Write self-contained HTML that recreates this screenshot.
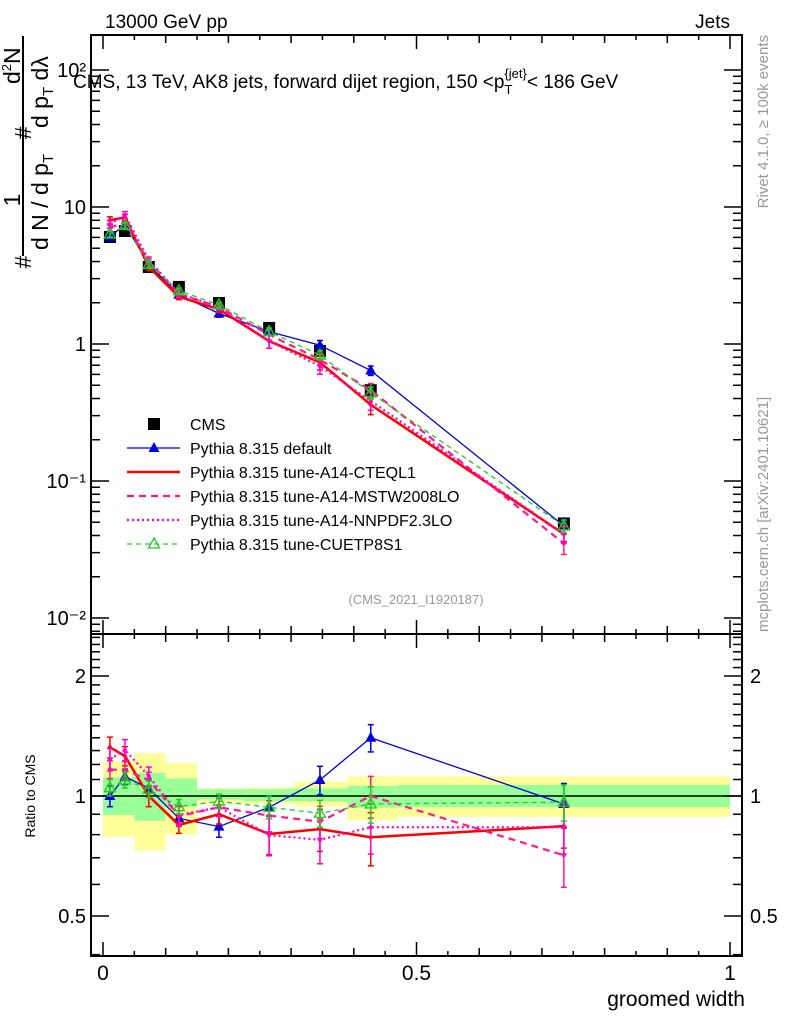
<!DOCTYPE html>
<html><head><meta charset="utf-8"><style>
html,body{margin:0;padding:0;background:#fff}
svg{display:block;font-family:"Liberation Sans",sans-serif}
</style></head><body>
<svg id="c" width="786" height="1024" viewBox="0 0 786 1024">
<g id="bands"></g>
<g id="axes"></g>
<g id="series"></g>
<text x="105" y="28" font-size="19">13000 GeV pp</text>
<text x="730" y="28" font-size="19" text-anchor="end">Jets</text>
<text x="73" y="88" font-size="19">CMS, 13 TeV, AK8 jets, forward dijet region, 150 &lt;p<tspan font-size="13" dy="6">T</tspan><tspan font-size="13" dy="-16" dx="-8">{jet}</tspan><tspan dy="10">&lt; 186 GeV</tspan></text>
<text x="416" y="604" font-size="13" fill="#999" text-anchor="middle">(CMS_2021_I1920187)</text>
<text transform="translate(768,35) rotate(-90)" font-size="15" fill="#999" text-anchor="end">Rivet 4.1.0, ≥ 100k events</text>
<text transform="translate(768,632) rotate(-90)" font-size="15" fill="#999">mcplots.cern.ch [arXiv:2401.10621]</text>
<g font-size="23">
<line x1="23" y1="36" x2="23" y2="256" stroke="#000" stroke-width="2"/>
<text transform="translate(31,262) rotate(-90)" text-anchor="middle">#</text>
<text transform="translate(20,200) rotate(-90)" text-anchor="middle">1</text>
<text transform="translate(48,250) rotate(-90)">d N / d p<tspan font-size="15" dy="5">T</tspan></text>
<text transform="translate(31,133) rotate(-90)" text-anchor="middle">#</text>
<text transform="translate(20,84) rotate(-90)">d<tspan font-size="13" dy="-9">2</tspan><tspan dy="9">N</tspan></text>
<text transform="translate(48,128) rotate(-90)">d p<tspan font-size="15" dy="5">T</tspan><tspan dy="-5"> dλ</tspan></text>
</g>
<text transform="translate(35,796) rotate(-90)" font-size="14" text-anchor="middle">Ratio to CMS</text>
<text x="745" y="1006" font-size="21" text-anchor="end">groomed width</text>
<g id="legend"></g>
</svg>
<script>
const xs = [0.011, 0.035, 0.073, 0.121, 0.185, 0.265, 0.346, 0.427, 0.735];
const binEdges = [0, 0.05, 0.1, 0.15, 0.225, 0.305, 0.39, 0.47, 1];
const cms = [6.04, 6.68, 3.65, 2.61, 1.99, 1.31, 0.89, 0.46, 0.049];
const yellowUp = [1.22, 1.28, 1.21, 1.045, 1.05, 1.086, 1.12, 1.12, 1.124];
const yellowDn = [0.79, 0.73, 0.80, 0.959, 0.955, 0.94, 0.87, 0.886, 0.886];
const greenUp = [1.114, 1.144, 1.107, 1.04, 1.04, 1.045, 1.06, 1.066, 1.066];
const greenDn = [0.896, 0.867, 0.94, 0.98, 0.97, 0.97, 0.935, 0.938, 0.938];
const defMain = [6.04, 7.47, 3.81, 2.29, 1.67, 1.23, 0.98, 0.64, 0.047];
const defRatio = [1.0, 1.118, 1.045, 0.879, 0.838, 0.937, 1.097, 1.40, 0.955];
const defErr = [0.06, 0.05, 0.05, 0.04, 0.05, 0.06, 0.09, 0.11, 0.12];
const cteqMain = [8.0, 8.4, 3.65, 2.21, 1.79, 1.05, 0.735, 0.36, 0.041];
const cteqRatio = [1.325, 1.26, 1.0, 0.846, 0.9, 0.803, 0.826, 0.788, 0.84];
const cteqErr = [0.08, 0.07, 0.06, 0.04, 0.05, 0.09, 0.1, 0.12, 0.1];
const mstwMain = [7.04, 7.75, 4.0, 2.32, 1.86, 1.17, 0.77, 0.46, 0.035];
const mstwRatio = [1.166, 1.16, 1.097, 0.89, 0.937, 0.893, 0.862, 1.0, 0.71];
const mstwErr = [0.06, 0.06, 0.05, 0.05, 0.05, 0.08, 0.08, 0.12, 0.12];
const nnpdfMain = [7.47, 8.72, 4.1, 2.34, 1.86, 1.05, 0.69, 0.384, 0.041];
const nnpdfRatio = [1.236, 1.305, 1.122, 0.896, 0.937, 0.798, 0.776, 0.835, 0.835];
const nnpdfErr = [0.08, 0.08, 0.06, 0.05, 0.05, 0.09, 0.1, 0.12, 0.12];
const cuetMain = [6.34, 7.33, 3.8, 2.45, 1.93, 1.23, 0.83, 0.44, 0.047];
const cuetRatio = [1.05, 1.097, 1.04, 0.94, 0.97, 0.937, 0.905, 0.955, 0.965];
const cuetErr = [0.05, 0.05, 0.05, 0.04, 0.04, 0.06, 0.07, 0.1, 0.1];
const mainTicks = [0.01, 0.1, 1, 10, 100];
const mainTickLabels = ["10⁻²", "10⁻¹", "1", "10", "10²"];
const ratioTicks = [0.5, 1, 2];
const ratioTickLabels = ["0.5", "1", "2"];
const xTicks = [0, 0.5, 1];
const xTickLabels = ["0", "0.5", "1"];

const NS = "http://www.w3.org/2000/svg";
const L = 91, R = 742, T1 = 35, B1 = 634, T2 = 634, B2 = 956;
const X = v => 103 + v * 627;
const Y = v => 344 - Math.log10(v) * 137;
const YR = v => 796 - Math.log10(v) * 398.6;
function mk(tag, attrs, parent) {
  const e = document.createElementNS(NS, tag);
  for (const k in attrs) e.setAttribute(k, attrs[k]);
  parent.appendChild(e); return e;
}
const bands = document.getElementById('bands');
const axes = document.getElementById('axes');
const ser = document.getElementById('series');
const leg = document.getElementById('legend');

for (let i = 0; i < cms.length; i++) {
  const x0 = X(binEdges[i]), x1 = X(binEdges[i + 1]);
  const y = mk('rect', {x: x0, y: YR(yellowUp[i]), width: x1 - x0, height: YR(yellowDn[i]) - YR(yellowUp[i]), fill: '#ffff99'}, bands);
  
  
  const g = mk('rect', {x: x0, y: YR(greenUp[i]), width: x1 - x0, height: YR(greenDn[i]) - YR(greenUp[i]), fill: '#99ff99'}, bands);
  
  
}
mk('line', {x1: L, x2: R, y1: YR(1), y2: YR(1), stroke: '#000', 'stroke-width': 1.5}, axes);

mk('rect', {x: L, y: T1, width: R - L, height: B1 - T1, fill: 'none', stroke: '#000', 'stroke-width': 2}, axes);
mk('rect', {x: L, y: T2, width: R - L, height: B2 - T2, fill: 'none', stroke: '#000', 'stroke-width': 2}, axes);
for (let k = 0; k <= 20; k++) {
  const v = k * 0.05, x = X(v);
  const len = (k % 10 === 0) ? 14 : (k % 2 === 0 ? 8 : 5);
  [[T1, 1], [B1, -1], [T2, 1], [B2, -1]].forEach(([y, d]) => mk('line', {x1: x, x2: x, y1: y, y2: y + d * len, stroke: '#000', 'stroke-width': 1.5}, axes));
}
xTicks.forEach((v, i) => {
  const t = mk('text', {x: X(v), y: 980, 'font-size': 21, 'text-anchor': 'middle'}, axes);
  t.textContent = xTickLabels[i];
  
  
});
for (let d = -3; d <= 2; d++) for (let m = 1; m <= 9; m++) {
  const v = m * Math.pow(10, d), y = Y(v);
  if (y < T1 || y > B1) continue;
  const len = m === 1 ? 18 : 9;
  mk('line', {x1: L, x2: L + len, y1: y, y2: y, stroke: '#000', 'stroke-width': 1.5}, axes);
  mk('line', {x1: R, x2: R - len, y1: y, y2: y, stroke: '#000', 'stroke-width': 1.5}, axes);
}
mainTicks.forEach((v, i) => {
  const t = mk('text', {x: 86, y: Y(v) + 7, 'font-size': 20, 'text-anchor': 'end'}, axes);
  t.textContent = mainTickLabels[i];
  
  
});
for (let k = 4; k <= 25; k++) {
  const v = k / 10, y = YR(v);
  if (y < T2 || y > B2) continue;
  const len = (k === 5 || k === 10 || k === 20) ? 18 : 9;
  mk('line', {x1: L, x2: L + len, y1: y, y2: y, stroke: '#000', 'stroke-width': 1.5}, axes);
  mk('line', {x1: R, x2: R - len, y1: y, y2: y, stroke: '#000', 'stroke-width': 1.5}, axes);
}
ratioTicks.forEach((v, i) => {
  const t = mk('text', {x: 86, y: YR(v) + 7, 'font-size': 20, 'text-anchor': 'end'}, axes);
  t.textContent = ratioTickLabels[i];
  
  
  const t2 = mk('text', {x: 750, y: YR(v) + 7, 'font-size': 20}, axes);
  t2.textContent = ratioTickLabels[i];
  
  
});

function marker(type, x, y, color, parent) {
  if (type === 'square') return mk('rect', {x: x - 6, y: y - 6, width: 12, height: 12, fill: '#000'}, parent);
  if (type === 'tri') return mk('path', {d: `M${x} ${y - 6}L${x + 5.5} ${y + 4}L${x - 5.5} ${y + 4}Z`, fill: color}, parent);
  if (type === 'otri') return mk('path', {d: `M${x} ${y - 6}L${x + 5.5} ${y + 4}L${x - 5.5} ${y + 4}Z`, fill: 'none', stroke: color, 'stroke-width': 1.3}, parent);
  if (type === 'dot') return mk('circle', {cx: x, cy: y, r: 2, fill: color}, parent);
}
const series = [
  {name: 'Pythia 8.315 default', main: defMain, ratio: defRatio, err: defErr, color: '#0000dd', w: 1.3, dash: '', m: 'tri', key: 'series-default'},
  {name: 'Pythia 8.315 tune-A14-CTEQL1', main: cteqMain, ratio: cteqRatio, err: cteqErr, color: '#ff0000', w: 2.5, dash: '', m: 'dot', key: 'series-a14-cteql1'},
  {name: 'Pythia 8.315 tune-A14-MSTW2008LO', main: mstwMain, ratio: mstwRatio, err: mstwErr, color: '#ff1a8c', w: 2.2, dash: '7 5', m: 'dot', key: 'series-a14-mstw2008lo'},
  {name: 'Pythia 8.315 tune-A14-NNPDF2.3LO', main: nnpdfMain, ratio: nnpdfRatio, err: nnpdfErr, color: '#ff00cc', w: 2.2, dash: '2 3', m: 'dot', key: 'series-a14-nnpdf23lo'},
  {name: 'Pythia 8.315 tune-CUETP8S1', main: cuetMain, ratio: cuetRatio, err: cuetErr, color: '#22cc22', w: 1.3, dash: '5 4', m: 'otri', key: 'series-cuetp8s1'}
];
const cg = mk('g', {}, ser);


cms.forEach((v, i) => {
  const r = marker('square', X(xs[i]), Y(v), '#000', cg);
  
  
});
series.forEach(s => {
  [[s.main, Y, true], [s.ratio, YR, false]].forEach(([vals, yf, isMain]) => {
    const g = mk('g', {}, ser);
    
    
    const pts = vals.map((v, i) => X(xs[i]) + ',' + yf(v)).join(' ');
    const pl = mk('polyline', {points: pts, fill: 'none', stroke: s.color, 'stroke-width': s.w, 'stroke-dasharray': s.dash}, g);
    
    
    vals.forEach((v, i) => {
      const x = X(xs[i]);
      const e = isMain ? s.err[i] / s.ratio[i] : s.err[i];
      const hi = isMain ? v * (1 + e) : v + e, lo = isMain ? v * (1 - e) : v - e;
      const eb = mk('line', {x1: x, x2: x, y1: yf(hi), y2: yf(lo), stroke: s.color, 'stroke-width': 1.5}, g);
      
      
      mk('line', {x1: x - 3, x2: x + 3, y1: yf(hi), y2: yf(hi), stroke: s.color, 'stroke-width': 1.5}, g);
      mk('line', {x1: x - 3, x2: x + 3, y1: yf(lo), y2: yf(lo), stroke: s.color, 'stroke-width': 1.5}, g);
      const mm = marker(s.m, x, yf(v), s.color, g);
      
      
    });
  });
});
const lx = 127, ly0 = 424, dy = 24;
const e0 = mk('g', {}, leg);


marker('square', 154, ly0, '#000', e0);
const t0 = mk('text', {x: 190, y: ly0 + 6, 'font-size': 16}, e0); t0.textContent = 'CMS';
series.forEach((s, i) => {
  const y = ly0 + dy * (i + 1);
  const g = mk('g', {}, leg);
  
  
  mk('line', {x1: lx, x2: 180, y1: y, y2: y, stroke: s.color, 'stroke-width': s.w, 'stroke-dasharray': s.dash}, g);
  if (s.m === 'tri' || s.m === 'otri') marker(s.m, 154, y, s.color, g);
  const t = mk('text', {x: 190, y: y + 6, 'font-size': 16}, g); t.textContent = s.name;
});
</script>
</body></html>
